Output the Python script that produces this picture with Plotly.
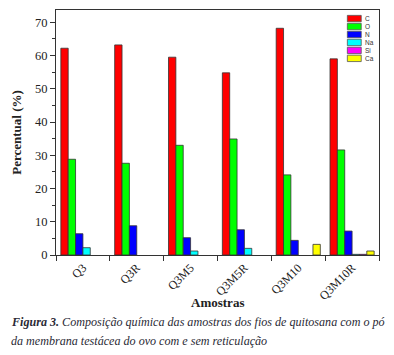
import plotly.graph_objects as go

samples = ["Q3", "Q3R", "Q3M5", "Q3M5R", "Q3M10", "Q3M10R"]
elements = ["C", "O", "N", "Na", "Si", "Ca"]
C_vals = [62.2, 63.2, 59.5, 54.8, 68.2, 59.0]
O_vals = [28.8, 27.6, 33.0, 34.9, 24.1, 31.6]
N_vals = [6.4, 8.8, 5.2, 7.6, 4.4, 7.2]
Na_vals = [2.2, None, 1.2, 2.0, None, 0.2]
Si_vals = [None, None, None, None, None, 0.2]
Ca_vals = [None, None, None, None, 3.2, 1.2]
colors = ["#FF0000", "#00FF00", "#0000FF", "#00FFFF", "#FF00FF", "#FFFF00"]
y_ticks = [0, 10, 20, 30, 40, 50, 60, 70]

series = [C_vals, O_vals, N_vals, Na_vals, Si_vals, Ca_vals]
serif = "Liberation Serif"

fig = go.Figure()
for name, vals, col in zip(elements, series, colors):
    fig.add_trace(go.Bar(x=samples, y=vals, name=name,
                         marker=dict(color=col, line=dict(color="#333333", width=0.8)),
                         showlegend=False))

# custom compact legend (top right)
lx0, ly0, dy = 0.902, 0.965, 0.0325
for i, (name, col) in enumerate(zip(elements, colors)):
    yc = ly0 - i * dy
    fig.add_shape(type="rect", xref="paper", yref="paper",
                  x0=lx0, x1=lx0 + 0.043, y0=yc - 0.013, y1=yc + 0.013,
                  fillcolor=col, line=dict(color="#555555", width=0.8))
    fig.add_annotation(xref="paper", yref="paper", x=lx0 + 0.05, y=yc,
                       text=name, showarrow=False, xanchor="left", yanchor="middle",
                       font=dict(family="Liberation Sans", size=6.5, color="#333333"))

# x-axis title
fig.add_annotation(xref="paper", yref="paper", x=0.5, y=-0.192,
                   text="<b>Amostras</b>", showarrow=False,
                   xanchor="center", yanchor="middle",
                   font=dict(family=serif, size=13, color="#222222"))

fig.add_annotation(xref="paper", yref="paper", x=-0.145, y=-0.272,
                   text="<i><b>Figura 3.</b> Composição química das amostras dos fios de quitosana com o pó</i>",
                   showarrow=False, xanchor="left", yanchor="middle",
                   font=dict(family=serif, size=12.1, color="#2a2a35"))
fig.add_annotation(xref="paper", yref="paper", x=-0.145, y=-0.35,
                   text="<i>da membrana testácea do ovo com e sem reticulação</i>",
                   showarrow=False, xanchor="left", yanchor="middle",
                   font=dict(family=serif, size=12.1, color="#2a2a35"))

fig.update_layout(
    width=394, height=355,
    margin=dict(l=56, r=15, t=10, b=100),
    paper_bgcolor="white", plot_bgcolor="white",
    barmode="group", bargap=0.18, bargroupgap=0,
    font=dict(family=serif, size=11, color="#222222"),
    xaxis=dict(type="category", range=[-0.5, 5.5], tickson="boundaries",
               ticks="outside", ticklen=5, tickcolor="#333", tickangle=-45,
               showline=True, linecolor="#333", linewidth=1, mirror=True,
               showgrid=False, tickfont=dict(family=serif, size=12),
               automargin=False),
    yaxis=dict(range=[0, 73.7], tickvals=y_ticks, ticks="outside", ticklen=5,
               tickcolor="#333", showline=True, linecolor="#333", linewidth=1,
               mirror=True, showgrid=False, zeroline=False, automargin=False,
               minor=dict(dtick=5, ticks="outside", ticklen=3, tickcolor="#333"),
               tickfont=dict(family=serif, size=12.5),
               title=dict(text="<b>Percentual (%)</b>", font=dict(family=serif, size=13), standoff=10)),
)

fig.write_html("out.html", config={"displayModeBar": False},
               post_script="document.body.style.margin='0';document.body.style.padding='0';window.dispatchEvent(new Event('resize'));")
